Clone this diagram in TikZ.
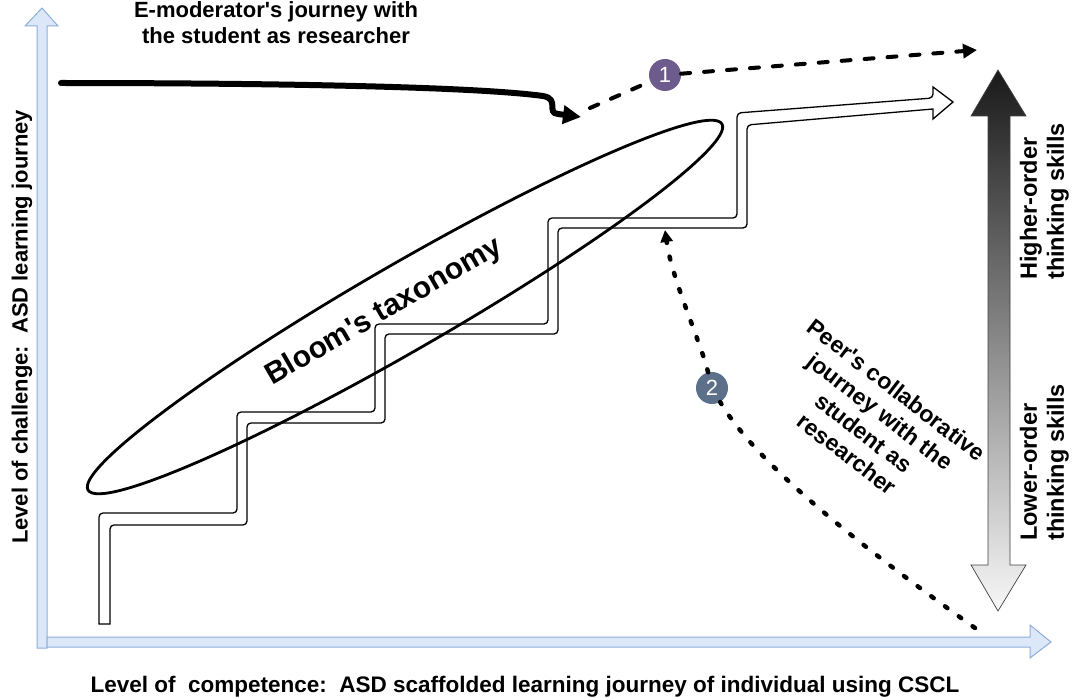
\documentclass[tikz,border=0pt]{standalone}
\usepackage{fontspec}
\setmainfont{Liberation Sans}
\usetikzlibrary{arrows.meta}
\definecolor{axisfill}{HTML}{DCE8F8}
\definecolor{axisedge}{HTML}{8DAEDC}
\definecolor{markone}{HTML}{6E5B8E}
\definecolor{marktwo}{HTML}{5D7089}
\newcommand{\apos}{\textquotesingle}
\begin{document}
\begin{tikzpicture}[x=1pt,y=-1pt,
  txt/.style={font=\bfseries\fontsize{22}{26}\selectfont, inner sep=0pt, align=center},
  skill/.style={font=\bfseries\fontsize{23.5}{27}\selectfont, inner sep=0pt, rotate=90,
    align=left, anchor=south west},
  axisshape/.style={draw=axisedge, fill=axisfill, line width=1pt, line join=miter},
  stairs/.style={draw=black, fill=white, line width=1.3pt, rounded corners=4pt},
  marker/.style={circle, minimum size=32pt, inner sep=0pt, text=white,
    font=\fontsize{22}{22}\selectfont},
  guide/.style={line width=4pt, line cap=round, dash pattern=on 9pt off 14pt},
  peerpath/.style={line width=4.5pt, line cap=round, dash pattern=on 3pt off 14pt},
]
\useasboundingbox (0,0) rectangle (1073,698);

% axes
\draw[axisshape] (37,648) -- (37,26) -- (25,26) -- (42,8) -- (58,26) -- (47,26) -- (47,648) -- cycle;
\draw[axisshape] (47,637) -- (1030,637) -- (1030,625) -- (1051,642) -- (1030,658) -- (1030,647) -- (47,647) -- cycle;

% axis labels
\node[txt, rotate=90] (ylab) at (22,327) {Level of challenge:\ \ ASD learning journey};
\node[txt, anchor=base, font=\bfseries\fontsize{22.5}{26}\selectfont] (xlab) at (525,692)
  {Level of\ \ competence:\ \ ASD scaffolded learning journey of individual using CSCL};

% thinking-skills scale
\draw[draw=black!75, line width=0.7pt, top color=black!90, bottom color=black!3]
  (998,70) -- (1026,116) -- (1010,116) -- (1010,565) -- (1026,565) -- (998,611)
  -- (971,565) -- (988,565) -- (988,116) -- (971,116) -- cycle;
\node[skill] (high) at (1069,280) {Higher-order\\thinking skills};
\node[skill] (low) at (1069,541) {Lower-order\\thinking skills};

% staircase
\draw[stairs] (99,624) -- (99,513) -- (237,513) -- (237,412) -- (375,412) -- (375,324)
  -- (548,324) -- (548,218) -- (737,218) -- (737,113) -- (933,98)
  [rounded corners=0pt] -- (933,87) -- (953,102) -- (933,119) -- (933,109)
  [rounded corners=4pt] -- (747,125) -- (747,228) -- (558,228) -- (558,334)
  -- (385,334) -- (385,423) -- (247,423) -- (247,525) -- (110,525)
  [rounded corners=0pt] -- (110,624) -- cycle;

% taxonomy ellipse
\draw[line width=2.8pt, rotate around={30:(405,307)}] (405,307) ellipse [x radius=366pt, y radius=43pt];
\node[font=\bfseries\fontsize{30}{36}\selectfont, rotate=30, inner sep=0pt] (bloom) at (384,312) {Bloom\apos s taxonomy};

% e-moderator journey
\node[txt, anchor=base] (emtext) at (276,44) {E-moderator\apos s journey with\\the student as researcher};
\coordinate (emStart) at (61,83);
\coordinate (emEnd) at (581,117);
\draw[line width=6pt, line cap=round, -{Triangle[length=18pt,width=18pt]}]
  (emStart) .. controls (250,83) and (470,86) .. (543,96)
  .. controls (560,99) and (546,113) .. (558,114) -- (emEnd);

\node[marker, fill=markone] (one) at (665,75) {1};
\coordinate (oneStart) at (590,108);
\coordinate (oneEnd) at (977,50);
\draw[guide] (oneStart) -- (one);
\draw[guide, -{Triangle[length=14pt,width=14pt]}] (one) -- (oneEnd);

% peer journey
\node[marker, fill=marktwo] (two) at (712,388) {2};
\coordinate (twoStart) at (975,628);
\coordinate (twoEnd) at (665,230);
\draw[peerpath] (twoStart) .. controls (880,560) and (760,470) .. (two);
\draw[peerpath, -{Triangle[length=12pt,width=12pt]}] (two) .. controls (700,340) and (672,280) .. (twoEnd);
\node[font=\bfseries\fontsize{23}{27}\selectfont, rotate=-37.5, align=center, inner sep=0pt] (peer) at (872,422)
  {Peer\apos s collaborative\\journey with the\\student as\\researcher};
\end{tikzpicture}
\end{document}
